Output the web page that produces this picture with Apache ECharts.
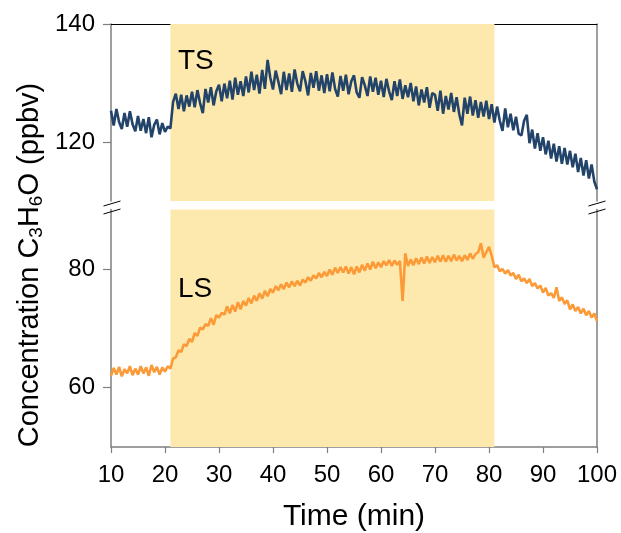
<!DOCTYPE html>
<html>
<head>
<meta charset="utf-8">
<script src="https://cdn.jsdelivr.net/npm/echarts@6/dist/echarts.min.js"></script>
<style>html,body{margin:0;padding:0;background:#fff}#c{width:621px;height:533px}</style>
</head>
<body>
<div id="c"></div>
<script>
// ---- data ----
var tStart = 10, tStep = 0.5;            // sampling (min)
var xTicks = [10, 20, 30, 40, 50, 60, 70, 80, 90, 100];
var tsTicks = [120, 140];
var lsTicks = [60, 80];
var shadeRange = [21, 81];
var seriesNames = ['TS', 'LS'];
var tsValues = [
125.3,122.8,125.6,123.4,122.2,124.9,122.6,125.2,123.0,121.8,
124.4,121.9,123.9,121.5,124.2,120.8,122.9,123.8,121.3,123.2,
121.7,122.6,122.3,126.8,128.2,125.6,128.0,125.2,127.9,126.0,
128.5,125.9,128.8,126.6,124.9,129.0,126.7,129.3,126.2,128.6,
129.7,126.9,129.9,127.4,130.4,127.2,130.9,128.0,130.3,127.8,
131.1,128.4,131.9,128.8,131.4,128.2,132.2,129.0,133.9,130.9,
128.9,132.1,130.2,128.1,131.9,128.8,131.6,128.5,132.3,129.9,
128.6,132.0,130.3,127.9,131.7,129.2,132.0,128.7,131.3,128.3,
131.5,128.6,131.8,129.0,127.7,131.2,128.7,131.4,128.1,130.3,
131.3,128.4,127.5,131.0,129.6,127.8,131.1,128.5,130.9,128.0,
130.4,127.6,130.7,128.6,127.1,130.3,127.8,130.6,127.3,129.6,
127.6,130.0,126.9,129.4,126.2,128.9,126.7,129.3,125.8,128.3,
128.0,125.3,128.7,124.8,127.8,125.5,128.3,125.1,127.6,124.7,
122.8,127.5,124.8,127.7,124.5,127.1,124.1,126.8,124.3,127.0,
123.9,126.4,123.3,126.0,123.6,121.9,125.7,122.5,124.8,122.0,
124.3,121.4,121.1,123.6,124.6,119.8,122.1,118.9,121.5,118.5,
120.8,117.9,120.2,117.2,119.7,116.7,119.3,116.3,119.0,116.2,
118.5,115.7,118.0,114.9,117.3,114.3,116.9,113.8,116.2,113.3,
112.0];
var lsValues = [
62.0,63.3,62.2,63.5,61.9,63.1,62.4,63.6,62.1,63.2,
62.2,63.6,62.4,63.4,62.0,63.8,62.6,63.5,62.2,63.4,
62.7,63.6,63.2,64.9,65.1,66.3,66.0,67.3,67.0,68.2,
67.7,69.2,68.7,70.1,69.8,70.7,70.4,71.7,70.6,72.2,
71.8,72.6,72.3,73.7,72.5,73.9,72.8,74.4,73.2,74.6,
73.8,75.1,74.2,75.5,74.6,75.9,75.0,76.3,75.4,76.6,
76.0,77.1,76.4,77.4,76.6,77.7,76.9,77.9,77.1,78.0,
77.2,78.2,77.7,78.6,78.0,78.9,78.4,79.3,78.6,79.5,
78.8,79.9,79.0,80.2,79.3,80.3,79.4,80.4,79.2,80.3,
79.1,80.4,79.4,80.7,79.7,80.9,79.9,81.2,80.1,81.1,
80.3,81.3,80.6,81.5,80.5,81.4,80.7,81.3,74.6,82.6,
80.5,81.6,80.6,81.8,80.8,81.9,80.9,82.1,81.0,82.0,
81.1,82.2,81.2,82.3,81.2,82.2,81.3,82.4,81.4,82.2,
81.3,82.3,81.5,82.6,81.7,82.5,82.8,84.3,81.9,82.8,
83.7,82.2,80.3,80.6,79.6,80.0,79.2,79.8,78.9,79.3,
78.3,79.0,77.9,78.4,77.6,78.3,77.1,77.6,76.7,77.2,
76.0,76.8,75.5,75.9,75.1,76.9,74.6,75.2,74.1,74.7,
73.2,74.0,72.9,73.6,72.5,73.3,72.2,72.9,71.8,72.5,
71.2];

// ---- build ----
function pairs(vals){ return vals.map(function(v,i){ return [tStart + i*tStep, v]; }); }
var FONT = '"Liberation Sans", Arial, sans-serif';
var GRAY = '#7f7f7f';
var SHADE = '#FDE9AD';
var chart = echarts.init(document.getElementById('c'), null, {renderer:'canvas'});
var shadeArea = {silent:true, itemStyle:{color:SHADE}, data:[[{xAxis:shadeRange[0]},{xAxis:shadeRange[1]}]]};
function brk(x, y){ return {type:'line', shape:{x1:x-8.5,y1:y+2.5,x2:x+8.5,y2:y-2.5}, style:{stroke:'#000', lineWidth:1}, z:100}; }
chart.setOption({
  animation:false,
  backgroundColor:'#fff',
  grid:[
    {left:111, right:24, top:24, height:177},
    {left:111, right:24, top:209.5, height:239}
  ],
  xAxis:[
    {gridIndex:0, type:'value', min:10, max:100, position:'top',
     axisLine:{show:true, lineStyle:{color:'#000', width:1}}, axisTick:{show:false}, axisLabel:{show:false}, splitLine:{show:false}},
    {gridIndex:1, type:'value', min:10, max:100, interval:10, position:'bottom',
     axisLine:{show:true, onZero:false, lineStyle:{color:GRAY, width:1.5}},
     axisTick:{show:true, length:6, lineStyle:{color:GRAY, width:1.2}, customValues:xTicks},
     axisLabel:{fontSize:24, color:'#000', fontFamily:FONT, margin:16, customValues:xTicks},
     splitLine:{show:false},
     name:'Time (min)', nameLocation:'middle', nameGap:55,
     nameTextStyle:{fontSize:30, color:'#000', fontFamily:FONT}}
  ],
  yAxis:[
    {gridIndex:0, type:'value', min:110, max:140, position:'left',
     axisLine:{show:true, onZero:false, lineStyle:{color:GRAY, width:1.5}},
     axisTick:{show:true, length:8, lineStyle:{color:GRAY, width:1.2}, customValues:tsTicks},
     axisLabel:{fontSize:24, color:'#000', fontFamily:FONT, margin:16, customValues:tsTicks},
     splitLine:{show:false}},
    {gridIndex:0, type:'value', min:110, max:140, position:'right',
     axisLine:{show:true, onZero:false, lineStyle:{color:GRAY, width:1.5}},
     axisTick:{show:false}, axisLabel:{show:false}, splitLine:{show:false}},
    {gridIndex:1, type:'value', min:50, max:90, position:'left',
     axisLine:{show:true, onZero:false, lineStyle:{color:GRAY, width:1.5}},
     axisTick:{show:true, length:8, lineStyle:{color:GRAY, width:1.2}, customValues:lsTicks},
     axisLabel:{fontSize:24, color:'#000', fontFamily:FONT, margin:16, customValues:lsTicks},
     splitLine:{show:false}},
    {gridIndex:1, type:'value', min:50, max:90, position:'right',
     axisLine:{show:true, onZero:false, lineStyle:{color:GRAY, width:1.5}},
     axisTick:{show:false}, axisLabel:{show:false}, splitLine:{show:false}}
  ],
  series:[
    {name:seriesNames[0], type:'line', xAxisIndex:0, yAxisIndex:0, data:pairs(tsValues),
     showSymbol:false, lineStyle:{color:'#23446A', width:2.6}, itemStyle:{color:'#23446A'},
     markArea:shadeArea, z:3},
    {name:seriesNames[1], type:'line', xAxisIndex:1, yAxisIndex:2, data:pairs(lsValues),
     showSymbol:false, lineStyle:{color:'#FB9A37', width:2.6}, itemStyle:{color:'#FB9A37'},
     markArea:shadeArea, z:3}
  ],
  graphic:[
    {type:'text', left:178, top:47, style:{text:seriesNames[0], fontSize:28, fill:'#000', fontFamily:FONT}, z:10},
    {type:'text', left:178, top:275, style:{text:seriesNames[1], fontSize:28, fill:'#000', fontFamily:FONT}, z:10},
    {type:'text', x:30, y:265, rotation:Math.PI/2,
     style:{text:'{a|Concentration C}{s|3}{a|H}{s|6}{a|O (ppbv)}', align:'center', verticalAlign:'middle', fill:'#000', fontFamily:FONT,
       rich:{a:{fontSize:29, fontFamily:FONT, lineHeight:32, fill:'#000'}, s:{fontSize:19, fontFamily:FONT, lineHeight:13, verticalAlign:'bottom', fill:'#000'}}}, z:10},
    brk(112, 203.5), brk(112, 211.5),
    brk(597, 203.5), brk(597, 211.5)
  ]
});
</script>
</body>
</html>
